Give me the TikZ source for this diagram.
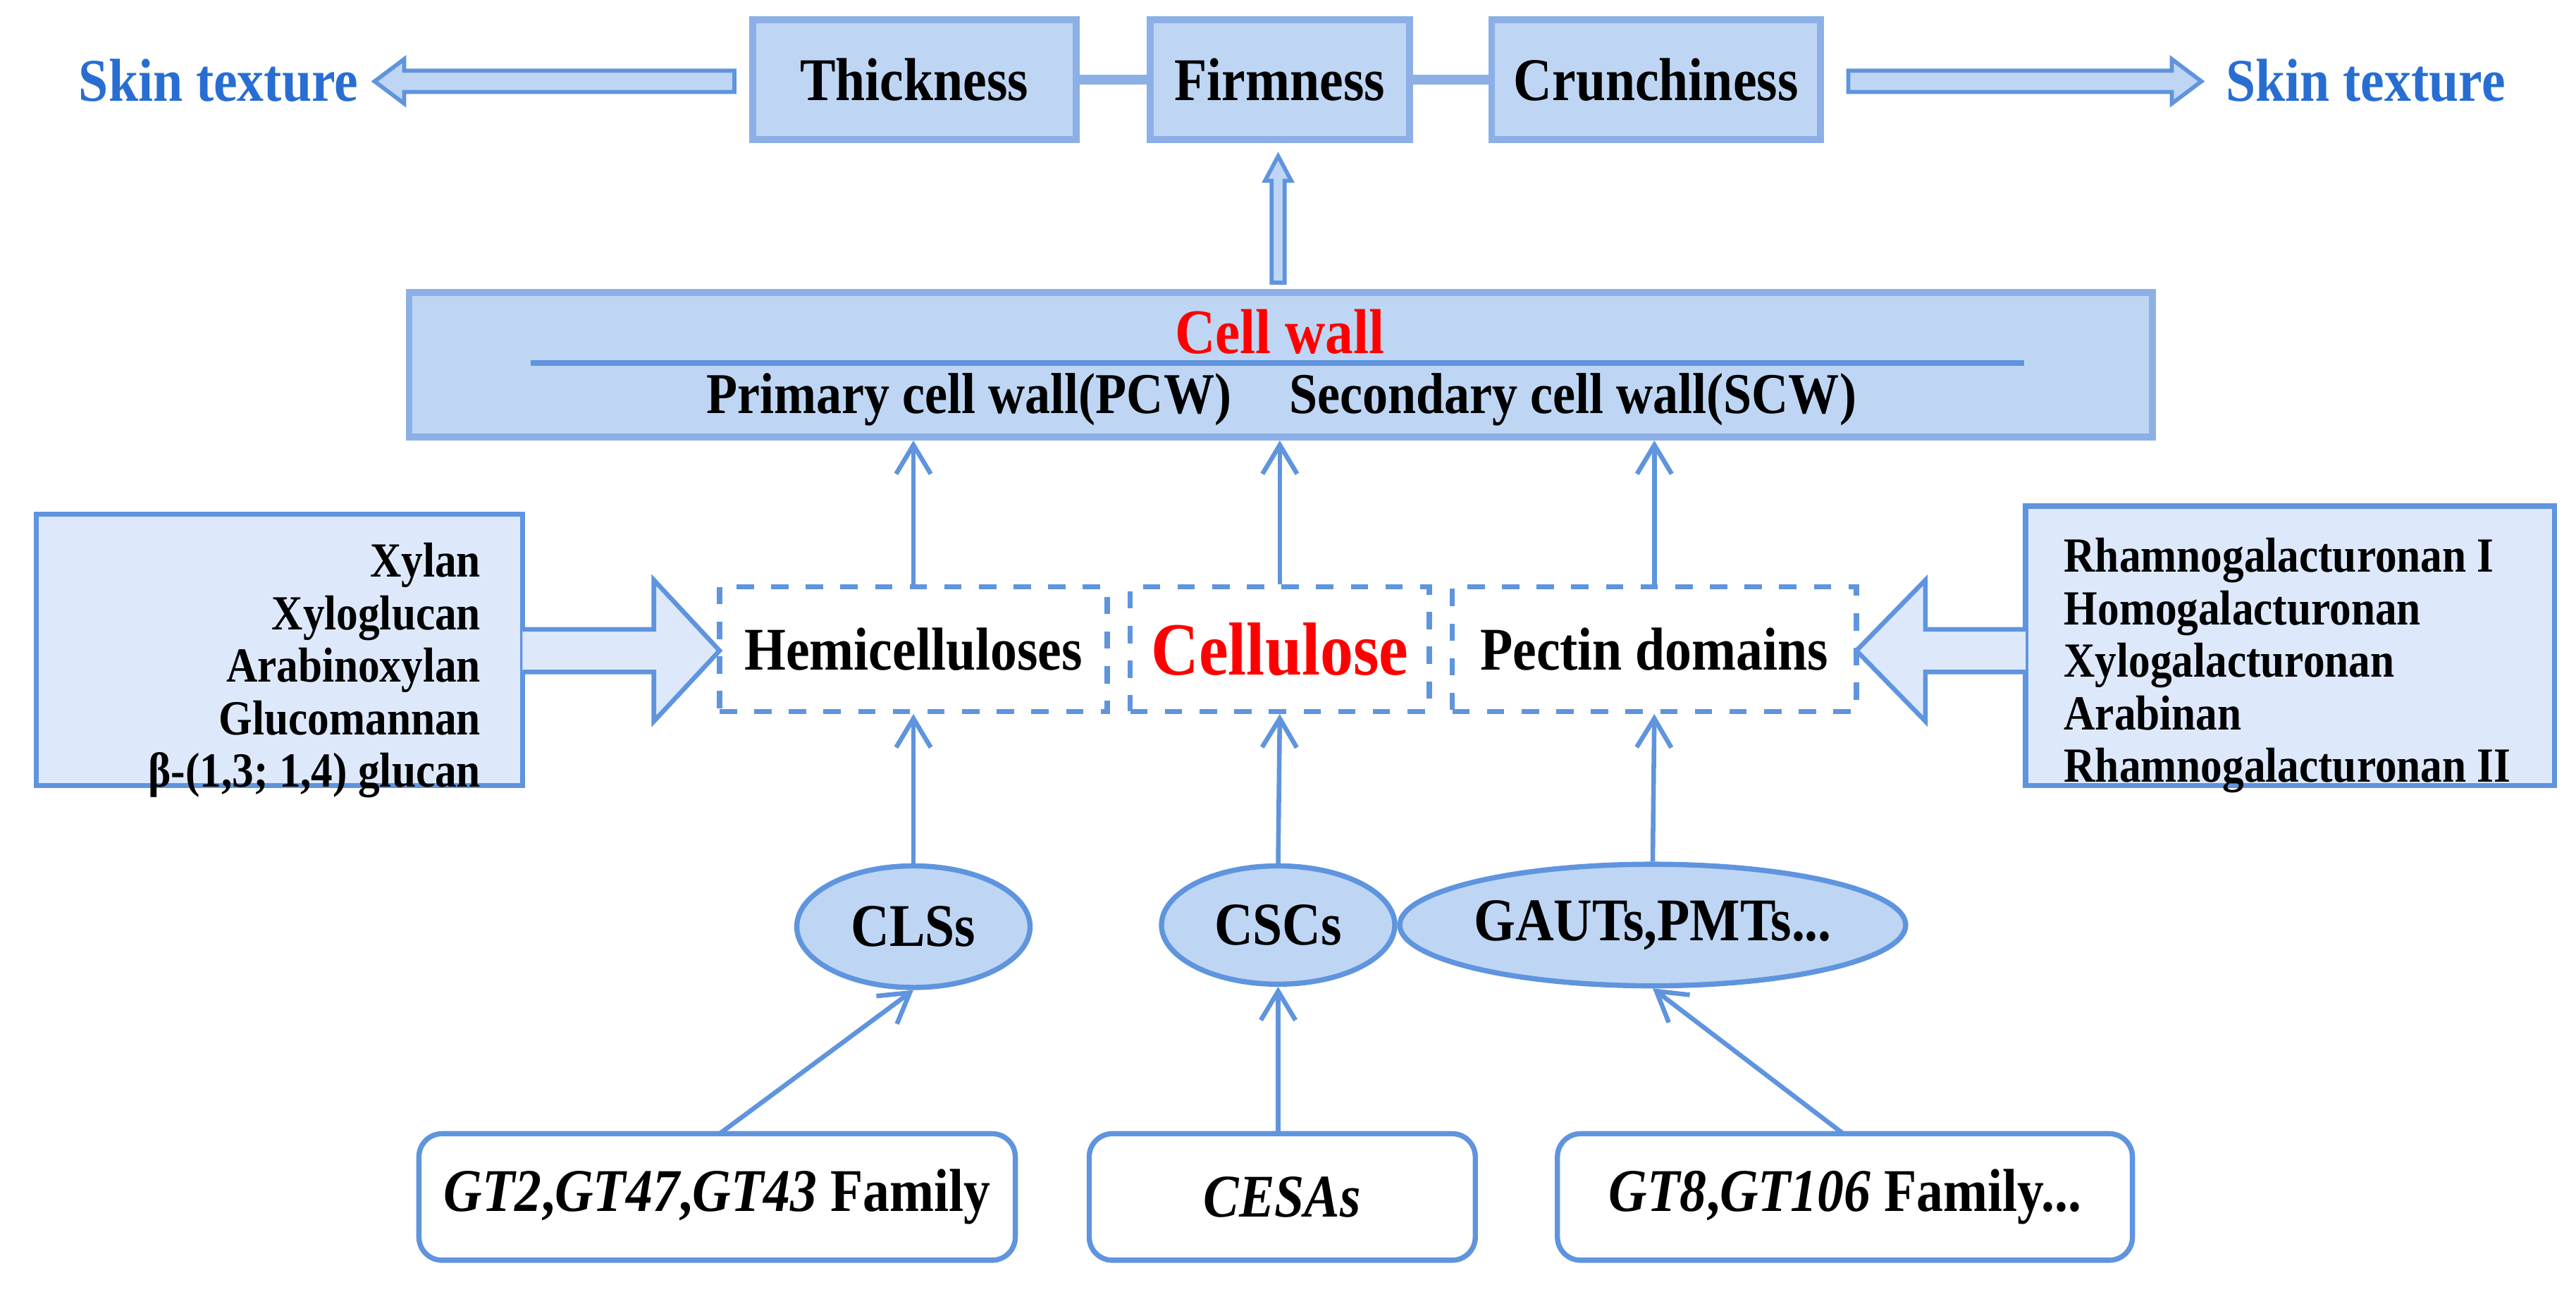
\documentclass[tikz,border=0pt]{standalone}
\usepackage{fontspec}
\setmainfont{Liberation Serif}[FakeStretch=0.88]
\usetikzlibrary{shapes.geometric,arrows.meta}
\definecolor{bfill}{RGB}{190,214,244}
\definecolor{bedge}{RGB}{140,176,230}
\definecolor{lfill}{RGB}{221,233,251}
\definecolor{line}{RGB}{95,148,222}
\definecolor{skin}{RGB}{40,110,210}
\begin{document}
\begin{tikzpicture}[x=0.1mm,y=-0.1mm,
  sz/.style 2 args={minimum width=#1*0.1mm,minimum height=#2*0.1mm},
  top/.style={draw=bedge,line width=1.2pt,fill=bfill,font=\bfseries\fontsize{10.5}{12}\selectfont,inner sep=0},
  dbox/.style={draw=line,dashed,line width=0.9pt,fill=white,inner sep=0,font=\bfseries\fontsize{10.5}{12}\selectfont},
  ell/.style={ellipse,draw=line,line width=0.9pt,fill=bfill,inner sep=0,font=\bfseries\fontsize{10.5}{12}\selectfont},
  gbox/.style={draw=line,line width=0.9pt,rounded corners=4pt,fill=white,inner sep=0,font=\bfseries\fontsize{10.5}{12}\selectfont},
  arr/.style={draw=line,line width=0.8pt,-{Straight Barb[length=5pt,width=6pt]}},
  hol/.style={draw=line,line width=0.7pt,fill=bfill},
  lbl/.style={font=\bfseries\fontsize{8.5}{9.1}\selectfont}]
\useasboundingbox (0,0) rectangle (1568,786);
% top row
\node[top,sz={197}{73}] (thk) at (556.5,48.5) {Thickness};
\node[top,sz={158}{73}] (frm) at (779,48.5) {Firmness};
\node[top,sz={200}{73}] (crn) at (1008,48.5) {Crunchiness};
\fill[bedge] ([yshift=-0.3mm]thk.east) rectangle ([yshift=0.3mm]frm.west);
\fill[bedge] ([yshift=-0.3mm]frm.east) rectangle ([yshift=0.3mm]crn.west);
\node[text=skin,font=\bfseries\fontsize{10.5}{12}\selectfont] (skl) at (133,49) {Skin texture};
\node[text=skin,font=\bfseries\fontsize{10.5}{12}\selectfont] (skr) at (1440,49) {Skin texture};
\draw[hol] (447,43) -- (246,43) -- (246,36) -- (228,49.5) -- (246,63) -- (246,56) -- (447,56) -- cycle;
\draw[hol] (1125,43) -- (1322,43) -- (1322,36) -- (1340,49.5) -- (1322,63) -- (1322,56) -- (1125,56) -- cycle;
% cell wall
\node[top,sz={1061}{88}] (cw) at (779.5,222) {};
\node[text=red,font=\bfseries\fontsize{11}{13}\selectfont] (cwt) at (779,202) {Cell wall};
\draw[line,line width=0.9pt] (323,221) -- (1232,221);
\node[font=\bfseries\fontsize{10}{12}\selectfont] (cws) at (780,243) {Primary cell wall(PCW)\quad Secondary cell wall(SCW)};
\draw[hol] (774,172) -- (774,110) -- (770,110) -- (778,95) -- (786,110) -- (782,110) -- (782,172) -- cycle;
% dashed boxes
\node[dbox,sz={236}{76}] (hem) at (556,395) {Hemicelluloses};
\node[dbox,sz={182}{76},text=red,font=\bfseries\fontsize{13}{15}\selectfont] (cel) at (779,395) {Cellulose};
\node[dbox,sz={246}{76}] (pec) at (1007,395) {Pectin domains};
\draw[arr] (hem.north) -- (hem.north|-cw.south);
\draw[arr] (cel.north) -- (cel.north|-cw.south);
\draw[arr] (pec.north) -- (pec.north|-cw.south);
% side lists
\node[draw=line,line width=0.9pt,fill=lfill,sz={296}{165},inner sep=0] (lst) at (170,395.5) {};
\node[lbl,align=right,anchor=north east] (lsttxt) at (305,318) {Xylan\\Xyloglucan\\Arabinoxylan\\Glucomannan\\β-(1,3; 1,4) glucan};
\draw[draw=line,line width=0.8pt,fill=lfill] (318,383) -- (398,383) -- (398,353) -- (438,396) -- (398,439) -- (398,409) -- (318,409);
\node[draw=line,line width=0.9pt,fill=lfill,sz={322}{170},inner sep=0] (rst) at (1394,393) {};
\node[lbl,align=left,anchor=north west] (rsttxt) at (1244,315) {Rhamnogalacturonan I\\Homogalacturonan\\Xylogalacturonan\\Arabinan\\Rhamnogalacturonan II};
\draw[draw=line,line width=0.8pt,fill=lfill] (1233,383) -- (1172,383) -- (1172,353) -- (1130,396) -- (1172,439) -- (1172,409) -- (1233,409);
% ellipses
\node[ell,sz={142}{74}] (cls) at (556,564) {CLSs};
\node[ell,sz={142}{72}] (csc) at (778,563) {CSCs};
\node[ell,sz={248}{74}] (gau) at (1006,563) {GAUTs,PMTs...};
\draw[arr] (cls.north) -- (hem.south);
\draw[arr] (csc.north) -- (cel.south);
\draw[arr] (gau.north) -- (pec.south);
% bottom
\node[gbox,sz={363}{77}] (g1) at (436.5,728.5) {\textit{GT2},\textit{GT47},\textit{GT43} Family};
\node[gbox,sz={235}{77}] (g2) at (780.5,728.5) {\textit{CESAs}};
\node[gbox,sz={350}{77}] (g3) at (1123,728.5) {\textit{GT8},\textit{GT106} Family...};
\coordinate (c1) at (438,690);
\coordinate (c3) at (1122,690);
\draw[arr] (c1) -- (cls.south);
\draw[arr] (g2.north-|csc.south) -- (csc.south);
\draw[arr] (c3) -- (gau.south);
\end{tikzpicture}
\end{document}
